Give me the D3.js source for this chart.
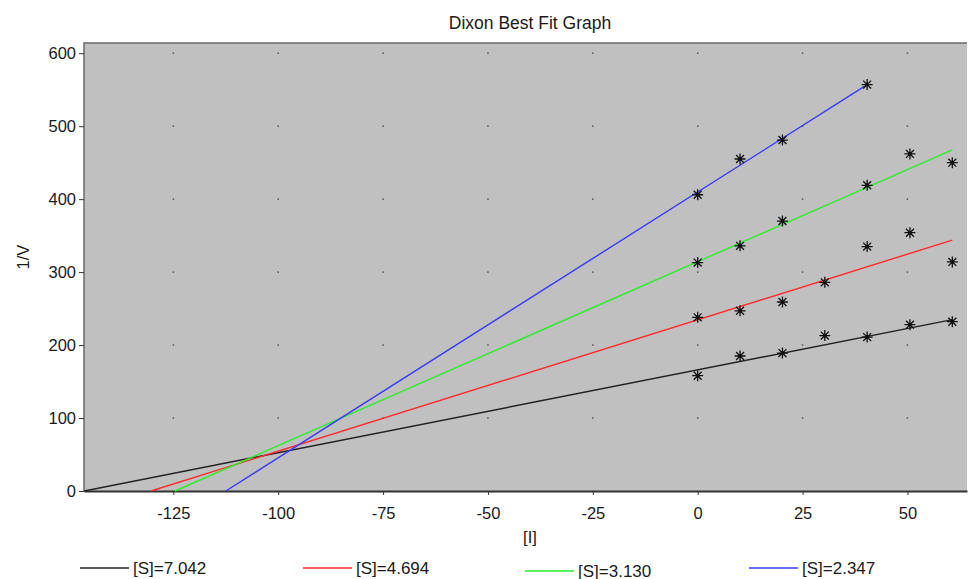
<!DOCTYPE html>
<html>
<head>
<meta charset="utf-8">
<script src="https://cdn.jsdelivr.net/npm/d3@7"></script>
<style>
    body { margin: 0; background: #fff; }
    svg { display: block; font-family: "Liberation Sans", Arial, sans-serif; }
</style>
</head>
<body>
<script>
// values
const seriesNames = ['[S]=7.042', '[S]=4.694', '[S]=3.130', '[S]=2.347'];
const seriesColors = ['#222222', '#ff2a2a', '#2aee2a', '#3a3aff'];

// measured points per series, [I] and 1/V
const blackPoints = [[0, 158], [10.1, 185], [20.2, 189], [30.3, 213], [40.4, 211], [50.6, 228], [60.7, 232]];
const redPoints = [[0, 238], [10.1, 247], [20.2, 259], [30.3, 286], [40.4, 335], [50.6, 354], [60.7, 314]];
const greenPoints = [[0, 313], [10.1, 336], [20.2, 370], [40.4, 419], [50.6, 462], [60.7, 450]];
const bluePoints = [[0, 406], [10.1, 455], [20.2, 481], [40.4, 557]];

// best fit lines: slope, intercept, last [I]
const fitSlopes = [1.135, 1.80, 2.522, 3.643];
const fitIntercepts = [166, 234.6, 314.3, 409.8];
const fitEnds = [60.7, 60.7, 60.7, 40.4];

const xTicks = [-125, -100, -75, -50, -25, 0, 25, 50];
const yTicks = [0, 100, 200, 300, 400, 500, 600];

const allPoints = [blackPoints, redPoints, greenPoints, bluePoints];

const W = 968, H = 579;
const svg = d3.select('body').append('svg')
    .attr('width', W)
    .attr('height', H);

const x = d3.scaleLinear().domain([-146.3, 64.2]).range([84, 967]);
const y = d3.scaleLinear().domain([0, 614]).range([491, 43]);

// plot area
svg.append('rect')
    .attr('x', x.range()[0])
    .attr('y', y.range()[1])
    .attr('width', x.range()[1] - x.range()[0])
    .attr('height', y.range()[0] - y.range()[1])
    .attr('fill', '#c0c0c0');

// border left / top
svg.append('path')
    .attr('d', `M${x.range()[0]},${y.range()[0]}V${y.range()[1]}H${x.range()[1]}`)
    .attr('fill', 'none')
    .attr('stroke', '#6a6a6a')
    .attr('stroke-width', 1.5);

// grid dots at tick crossings
const dots = [];
xTicks.forEach(tx => yTicks.filter(v => v > 0).forEach(ty => dots.push([tx, ty])));
svg.append('g').selectAll('rect')
    .data(dots)
    .enter()
    .append('rect')
    .attr('x', d => x(d[0]) - 0.75)
    .attr('y', d => y(d[1]) - 0.75)
    .attr('width', 1.5)
    .attr('height', 1.5)
    .attr('fill', '#555');

// axes (plain hyphen for negatives, like the original)
const xAxis = svg.append('g')
    .attr('transform', `translate(0,${y.range()[0]})`)
    .call(d3.axisBottom(x).tickValues(xTicks).tickFormat(d => String(d))
        .tickSize(4).tickPadding(12).tickSizeOuter(0));
const yAxis = svg.append('g')
    .attr('transform', `translate(${x.range()[0]},0)`)
    .call(d3.axisLeft(y).tickValues(yTicks).tickFormat(d => String(d))
        .tickSize(5).tickPadding(3).tickSizeOuter(0));

[xAxis, yAxis].forEach(a => {
    a.selectAll('text')
        .attr('fill', '#1a1a1a')
        .style('font-size', '16.5px')
        .style('font-family', '"Liberation Sans", Arial, sans-serif');
    a.selectAll('line').attr('stroke', '#333');
});
xAxis.select('.domain').attr('stroke', '#333').attr('stroke-width', 2);
yAxis.select('.domain').remove();

// fit lines
const lineGenerator = d3.line().x(d => x(d[0])).y(d => y(d[1]));
fitSlopes.forEach((m, i) => {
    const b = fitIntercepts[i];
    const x0 = Math.max(-b / m, x.domain()[0]);
    svg.append('path')
        .attr('d', lineGenerator([[x0, m * x0 + b], [fitEnds[i], m * fitEnds[i] + b]]))
        .attr('stroke', seriesColors[i])
        .attr('stroke-width', 1.4)
        .attr('fill', 'none');
});

// asterisk markers
const r = 5.5, rd = r * 0.72;
const star = `M${-r},0H${r}M0,${-r}V${r}M${-rd},${-rd}L${rd},${rd}M${-rd},${rd}L${rd},${-rd}`;
allPoints.forEach(pts => {
    const g = svg.append('g').selectAll('g')
        .data(pts)
        .enter()
        .append('g')
        .attr('transform', d => `translate(${x(d[0])},${y(d[1])})`);
    g.append('path')
        .attr('d', star)
        .attr('stroke', '#111')
        .attr('stroke-width', 1.3)
        .attr('fill', 'none');
    g.append('circle')
        .attr('r', 1.8)
        .attr('fill', '#111');
});

// titles
svg.append('text')
    .attr('x', 530)
    .attr('y', 29)
    .attr('text-anchor', 'middle')
    .attr('fill', '#1a1a1a')
    .style('font-size', '17.5px')
    .text('Dixon Best Fit Graph');

svg.append('text')
    .attr('x', 530)
    .attr('y', 543)
    .attr('text-anchor', 'middle')
    .attr('fill', '#1a1a1a')
    .style('font-size', '16.5px')
    .text('[I]');

svg.append('text')
    .attr('transform', 'translate(29,257) rotate(-90)')
    .attr('text-anchor', 'middle')
    .attr('fill', '#1a1a1a')
    .style('font-size', '16.5px')
    .text('1/V');

// legend
const legendX = [80, 303, 525, 749];
const legendY = [568, 568, 571, 568];
seriesNames.forEach((name, i) => {
    const g = svg.append('g').attr('transform', `translate(${legendX[i]},${legendY[i]})`);
    g.append('line')
        .attr('x1', 0).attr('x2', 49)
        .attr('y1', 0).attr('y2', 0)
        .attr('stroke', seriesColors[i])
        .attr('stroke-width', 1.4);
    g.append('text')
        .attr('x', 53)
        .attr('y', 5.5)
        .attr('fill', '#1a1a1a')
        .style('font-size', '17px')
        .text(name);
});
</script>
</body>
</html>
